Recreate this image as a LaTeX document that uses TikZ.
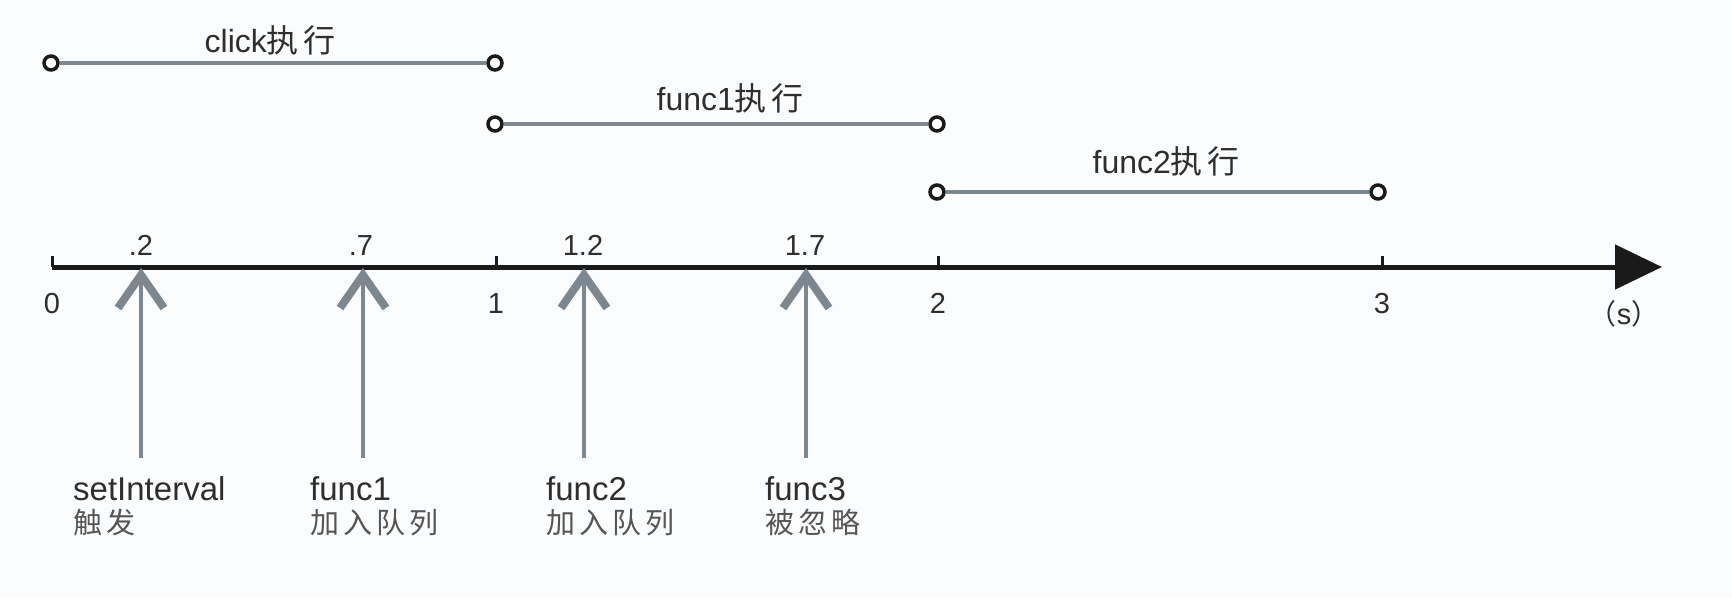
\documentclass[tikz,border=0pt]{standalone}
\usepackage{fontspec}
\setmainfont{Liberation Sans}
\newfontfamily\cjk[LetterSpace=14]{Noto Sans CJK SC}
\usetikzlibrary{arrows.meta}
\definecolor{bg}{HTML}{FBFCFD}
\definecolor{steel}{HTML}{7D878F}
\definecolor{axisblack}{HTML}{1A1A1A}
\definecolor{txt}{HTML}{2E2E2E}
\definecolor{txtl}{HTML}{555555}
\begin{document}
\begin{tikzpicture}[x=1pt,y=-1pt,
  dot/.style={circle, draw=axisblack, fill=white, line width=3.5pt, minimum size=14pt, inner sep=0pt},
  span/.style={draw=steel, line width=4pt},
  axisline/.style={draw=axisblack, line width=5pt, -{Triangle[length=47pt,width=44pt]}},
  tickmark/.style={draw=axisblack, line width=3pt},
  evt/.style={draw=steel, line width=3.5pt, -{Straight Barb[length=33pt,width=46pt,line width=8pt]}},
  lbl/.style={font=\fontsize{32}{38}\selectfont, text=txt, inner sep=0pt},
  num/.style={font=\fontsize{29}{34}\selectfont, text=txt, inner sep=0pt, anchor=base},
  desc/.style={font=\fontsize{29}{34}\selectfont\cjk, text=txtl, inner sep=0pt, anchor=base west},
  evname/.style={font=\fontsize{33}{38}\selectfont, text=txt, inner sep=0pt, anchor=base west}]
\fill[bg] (0,0) rectangle (1732,598);
\useasboundingbox (0,0) rectangle (1732,598);

% axis
\coordinate (t0) at (52,267);
\coordinate (t1) at (496,267);
\coordinate (t2) at (938,267);
\coordinate (t3) at (1382,267);
\coordinate (tend) at (1662,267);
\draw[axisline] (t0) -- (tend);
\foreach \t in {t0,t1,t2,t3} \draw[tickmark] (\t) -- ++(0,-11);
\node[num] (n0) at (52,313) {0};
\node[num] (n1) at (496,313) {1};
\node[num] (n2) at (938,313) {2};
\node[num] (n3) at (1382,313) {3};
\node[num] (unit) at (1624,324) {{\cjk\fontsize{28}{32}\selectfont （}s{\cjk\fontsize{28}{32}\selectfont ）}};

% execution spans
\node[dot] (c0) at (51,63) {};
\node[dot] (c1) at (495,63) {};
\node[dot] (f1a) at (495,124) {};
\node[dot] (f1b) at (937,124) {};
\node[dot] (f2a) at (937,192) {};
\node[dot] (f2b) at (1378,192) {};
\draw[span] (c0) -- (c1);
\draw[span] (f1a) -- (f1b);
\draw[span] (f2a) -- (f2b);
\node[lbl, anchor=base] (lc) at (270,52) {click{\cjk 执行}};
\node[lbl, anchor=base] (l1) at (730,110) {func1{\cjk 执行}};
\node[lbl, anchor=base] (l2) at (1166,173) {func2{\cjk 执行}};

% events
\coordinate (e1t) at (141,268);
\coordinate (e2t) at (363,268);
\coordinate (e3t) at (584,268);
\coordinate (e4t) at (806,268);
\coordinate (e1b) at (141,458);
\coordinate (e2b) at (363,458);
\coordinate (e3b) at (584,458);
\coordinate (e4b) at (806,458);
\draw[evt] (e1b) -- (e1t);
\draw[evt] (e2b) -- (e2t);
\draw[evt] (e3b) -- (e3t);
\draw[evt] (e4b) -- (e4t);
\node[num] (v1) at (141,255) {.2};
\node[num] (v2) at (361,255) {.7};
\node[num] (v3) at (583,255) {1.2};
\node[num] (v4) at (805,255) {1.7};

\node[evname] (a1) at (73,500) {setInterval};
\node[desc] (a2) at (73,533) {触发};
\node[evname] (b1) at (310,500) {func1};
\node[desc] (b2) at (310,533) {加入队列};
\node[evname] (d1) at (546,500) {func2};
\node[desc] (d2) at (546,533) {加入队列};
\node[evname] (g1) at (765,500) {func3};
\node[desc] (g2) at (765,533) {被忽略};
\end{tikzpicture}
\end{document}
